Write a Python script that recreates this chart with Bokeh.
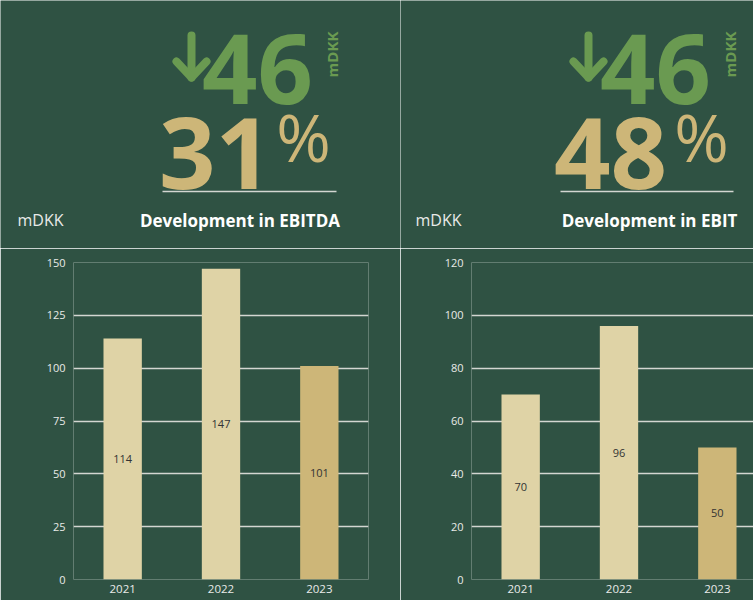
import math
from bokeh.plotting import figure
from bokeh.layouts import row, column
from bokeh.models import Range1d, FixedTicker, Label, LabelSet, ColumnDataSource
from bokeh.core.properties import value
from bokeh.embed import file_html
from bokeh.resources import INLINE

# ---- data ----
years = ["2021", "2022", "2023"]
ebitda = [114, 147, 101]
ebit = [70, 96, 50]
ebitda_ticks = [0, 25, 50, 75, 100, 125, 150]
ebit_ticks = [0, 20, 40, 60, 80, 100, 120]
change_mdkk = ["46", "46"]
pct_change = ["31", "48"]
titles = ["Development in EBITDA", "Development in EBIT"]
unit = "mDKK"

# ---- style ----
BG = "#2F5243"
GREEN = "#6A9A51"
GOLD = "#CDB678"
LIGHT_BAR = "#DFD3A6"
GRID = "#D3D6D1"
TXT = "#E9EAE8"
FONT = "Open Sans"
bar_colors = [LIGHT_BAR, LIGHT_BAR, GOLD]
DESC = 0.24   # approx. descent fraction used to place text by its baseline
HH = 248      # header height


def put(h, x, y_base, txt, size, color, align="center", style="normal", angle=0.0,
        baseline="bottom"):
    yp = y_base + DESC * size if baseline == "bottom" else y_base
    h.add_layout(Label(x=x, y=HH - yp, text=txt, angle=angle, text_font=FONT,
                       text_font_style=style, text_font_size=f"{size}px", text_color=color,
                       text_align=align, text_baseline=baseline))


def header(x0, x1, cx_arrow, cx_46, cx_unit, cx_pct, cx_sign, line_x0, line_x1,
           unit_x, title_cx, change, pct, title):
    h = figure(width=x1 - x0, height=HH, x_range=Range1d(x0, x1), y_range=Range1d(0, HH),
               output_backend="svg", toolbar_location=None,
               min_border_left=0, min_border_right=0, min_border_top=0, min_border_bottom=0,
               background_fill_color=BG, border_fill_color=BG, outline_line_color=None)
    h.axis.visible = False
    h.grid.visible = False
    # down arrow icon
    h.line([cx_arrow, cx_arrow], [HH - 35, HH - 77], line_color=GREEN, line_width=8,
           line_cap="round")
    h.line([cx_arrow - 15, cx_arrow, cx_arrow + 15], [HH - 61, HH - 77, HH - 61],
           line_color=GREEN, line_width=8, line_cap="round", line_join="round")
    h.segment(x0=[line_x0], y0=[HH - 191], x1=[line_x1], y1=[HH - 191], line_color=GRID,
              line_width=1.5)
    put(h, cx_unit, 54, unit, 15, GREEN, style="bold", angle=math.pi / 2, baseline="middle")
    put(h, unit_x, 227, unit, 16, TXT, align="left")
    put(h, title_cx, 227, title, 17, "#FFFFFF", style="bold")
    put(h, cx_sign, 165, "%", 66, GOLD)
    put(h, cx_46, 80, change, 97, GREEN, style="bold")
    put(h, cx_pct, 165, pct, 99, GOLD, style="bold")
    return h


def chart(width, vals, ticks, border_left, border_right, x_end):
    xs = [i + 0.5 for i in range(len(years))]
    src = ColumnDataSource(dict(x=xs, top=vals, mid=[v / 2 for v in vals],
                                lab=[str(v) for v in vals], color=bar_colors))
    c = figure(width=width, height=352, x_range=Range1d(0, x_end),
               y_range=Range1d(ticks[0], ticks[-1]),
               output_backend="svg", toolbar_location=None,
               min_border_left=border_left, min_border_right=border_right,
               min_border_top=14, min_border_bottom=21,
               background_fill_color=BG, border_fill_color=BG, outline_line_color=None)
    c.vbar(x="x", top="top", bottom=0, width=0.39, fill_color="color", line_color=None,
           source=src)
    c.add_layout(LabelSet(x="x", y="mid", text="lab", source=src, text_font=value(FONT),
                          text_font_size=value("11px"), text_color="#333333",
                          text_align="center", text_baseline="middle"))
    c.xgrid.visible = False
    c.ygrid.ticker = FixedTicker(ticks=ticks)
    c.ygrid.grid_line_color = GRID
    c.ygrid.grid_line_width = 1.5
    c.yaxis.ticker = FixedTicker(ticks=ticks)
    c.xaxis.ticker = FixedTicker(ticks=xs)
    c.xaxis.major_label_overrides = {x: y for x, y in zip(xs, years)}
    for ax in (c.xaxis[0], c.yaxis[0]):
        ax.axis_line_color = None
        ax.major_tick_line_color = None
        ax.minor_tick_line_color = None
        ax.major_tick_out = 0
        ax.major_tick_in = 0
        ax.major_label_text_font = FONT
        ax.major_label_text_color = TXT
        ax.major_label_text_font_size = "11px"
    c.yaxis.major_label_standoff = 8
    c.xaxis.major_label_standoff = 5
    c.xaxis.major_label_text_font_size = "11.5px"
    return c


h1 = header(0, 400, 191, 257, 331, 215, 303, 162, 336, 17, 239.5,
            change_mdkk[0], pct_change[0], titles[0])
h2 = header(400, 753, 588, 655, 729, 610, 701, 560, 733, 415, 649,
            change_mdkk[1], pct_change[1], titles[1])
c1 = chart(400, ebitda, ebitda_ticks, 73, 32, 3)
c2 = chart(353, ebit, ebit_ticks, 71, 0, 282 / (295 / 3))

p = column(row(h1, h2), row(c1, c2))
open("out.html", "w").write(file_html(p, INLINE))
